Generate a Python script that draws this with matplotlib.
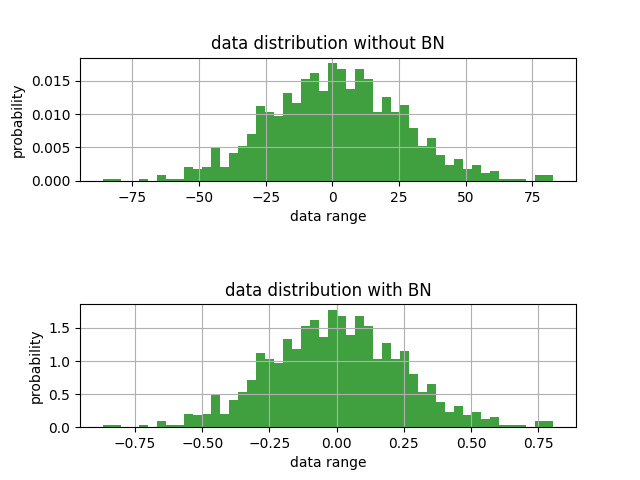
import numpy as np
import matplotlib
matplotlib.use("Agg")
import matplotlib.pyplot as plt

# Histogram counts per bin (50 bins)
counts = [1, 1, 0, 0, 1, 0, 3, 1, 1, 7,
          6, 7, 17, 7, 14, 18, 24, 38, 35, 33,
          45, 40, 52, 55, 46, 60, 57, 47, 57, 52,
          35, 43, 35, 39, 27, 18, 22, 13, 8, 11,
          6, 8, 4, 5, 1, 1, 1, 0, 3, 3]

# data ranges
raw_min, raw_max = -86.2, 82.96
bn_min, bn_max = -0.871, 0.807
n_bins = 50

counts = np.array(counts, dtype=float)

fig, axes = plt.subplots(2, 1, figsize=(6.4, 4.8), dpi=100)
plt.subplots_adjust(hspace=1.0)

for ax, (lo, hi), title in zip(axes,
                               [(raw_min, raw_max), (bn_min, bn_max)],
                               ["data distribution without BN", "data distribution with BN"]):
    edges = np.linspace(lo, hi, n_bins + 1)
    centers = (edges[:-1] + edges[1:]) / 2
    ax.hist(centers, bins=edges, weights=counts, density=True,
            facecolor='g', alpha=0.75)
    ax.set_title(title)
    ax.set_xlabel("data range")
    ax.set_ylabel("probability")
    ax.grid(True)

fig.savefig("out.png", dpi=100)
